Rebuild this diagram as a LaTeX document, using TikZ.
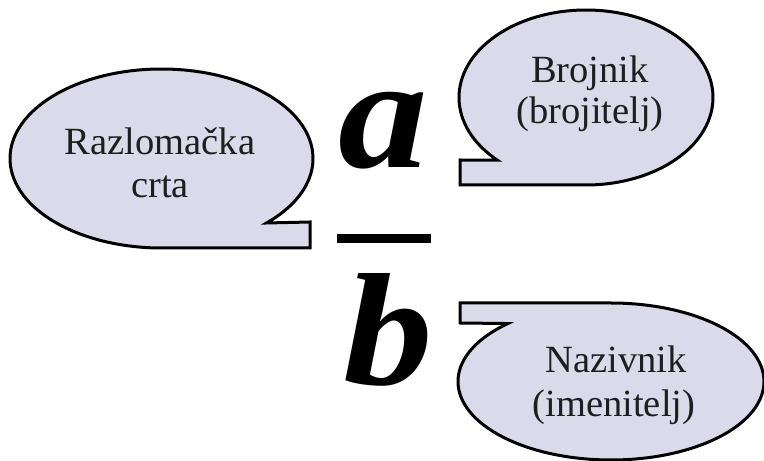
\documentclass[tikz,border=0pt]{standalone}
\usepackage{fontspec}
\setmainfont{Liberation Serif}
\definecolor{calloutfill}{RGB}{218,218,234}
\definecolor{textgray}{RGB}{30,30,30}
\begin{document}
\begin{tikzpicture}[x=1pt,y=1pt,
  callout/.style={draw=black, line width=3pt, fill=calloutfill, line join=miter},
  lbl/.style={font=\fontsize{38.5}{42}\selectfont, text=textgray, anchor=base, inner sep=0pt},
  letter/.style={font=\fontsize{160}{160}\selectfont\bfseries\itshape, anchor=base, inner sep=0pt, xscale=1.12}]
\useasboundingbox (0,0) rectangle (764,461);
\fill[white] (0,0) rectangle (764,461);
% centres of the ellipses
\coordinate (cL) at (161.5,302.5);
\coordinate (cT) at (586,363.5);
\coordinate (cB) at (611,79.5);
% left callout
\draw[callout] ([shift={(-46.1:151.5pt and 89.5pt)}]cL)
  arc[start angle=-46.1, end angle=270, x radius=151.5pt, y radius=89.5pt]
  -- (310,213) -- (310,239) -- cycle;
% top right callout
\draw[callout] ([shift={(225.8:127pt and 87.5pt)}]cT)
  arc[start angle=225.8, end angle=-90, x radius=127pt, y radius=87.5pt]
  -- (460,276) -- (460,301) -- cycle;
% bottom right callout
\draw[callout] ([shift={(132.4:153pt and 78.5pt)}]cB)
  arc[start angle=132.4, end angle=450, x radius=153pt, y radius=78.5pt]
  -- (460,158) -- (460,138) -- cycle;
% labels
\node[lbl] (raz) at (160,306) {Razlomačka};
\node[lbl] (crta) at (160,263) {crta};
\node[lbl] (broj) at (590,378) {Brojnik};
\node[lbl] (brojt) at (590,337) {(brojitelj)};
\node[lbl] (naz) at (616,88) {Nazivnik};
\node[lbl] (imen) at (614,44) {(imenitelj)};
% fraction
\node[letter] (a) at (383,293) {a};
\node[letter] (b) at (388,76) {b};
\fill (337,218) rectangle (431,227);
\end{tikzpicture}
\end{document}
